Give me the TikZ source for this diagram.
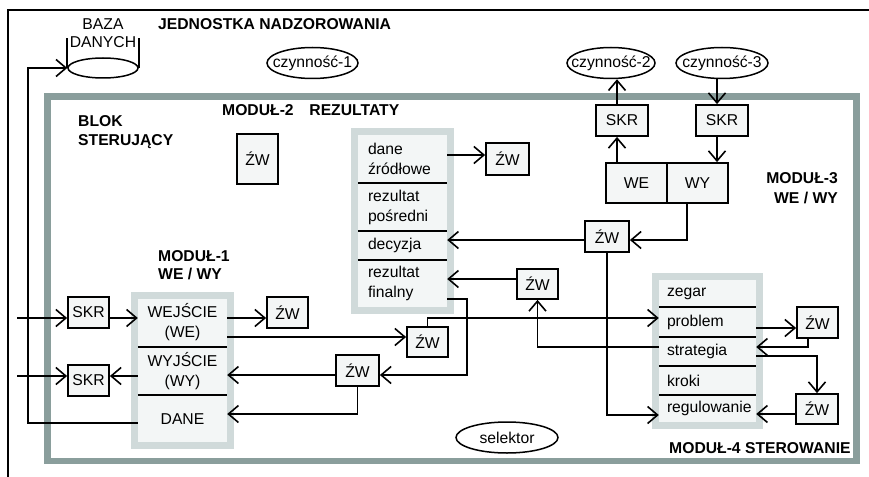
\documentclass[tikz,border=0pt]{standalone}
\usepackage{fontspec}
\setmainfont{Liberation Sans}
\usetikzlibrary{arrows.meta,shapes.geometric}
\definecolor{bigframe}{RGB}{138,158,156}
\definecolor{modframe}{RGB}{208,218,218}
\definecolor{modfill}{RGB}{243,246,246}
\definecolor{boxfill}{RGB}{244,246,246}
\begin{document}
\begin{tikzpicture}[x=1pt,y=-1pt,
  every node/.style={font=\fontsize{15.7}{20}\selectfont, inner sep=0pt},
  conn/.style={line width=1.6pt, -{Straight Barb[length=10pt,width=17pt]}},
  plain/.style={line width=1.6pt},
  box/.style={draw, line width=1.8pt, fill=boxfill, minimum height=31pt},
  zw/.style={box, minimum width=41pt},
  skr/.style={box, minimum width=41pt},
  ell/.style={ellipse, draw, line width=1.5pt, fill=white, minimum height=31pt},
  modbox/.style={draw=modframe, line width=7pt, fill=modfill, outer sep=0pt},
  crow/.style={minimum width=89pt, text width=89pt, align=center},
  lrow/.style={minimum width=89pt, text width=69pt, inner xsep=10pt, align=left},
  mrow/.style={minimum width=97pt, text width=81pt, inner xsep=8pt, align=left},
  bold/.style={font=\fontsize{15.7}{20}\selectfont\bfseries},
  sep/.style={line width=1.6pt}
]
\useasboundingbox (0,0) rectangle (869,476);
% outer frame (jednostka nadzorowania)
\draw[plain] (8,480) -- (8,10) -- (872,10);
% big grey frame (blok sterujacy)
\node[draw=bigframe, line width=6.5pt, minimum width=809pt, minimum height=364.5pt, outer sep=0pt] (blok) at (452,278.75) {};

% helper coordinates
\coordinate (in1) at (17,318);
\coordinate (in2) at (17,376);
\coordinate (yD) at (0,337);
\coordinate (yP) at (0,318);
\coordinate (cRF) at (467,299);
\coordinate (yE) at (0,375);
\coordinate (yDa) at (0,414);
\coordinate (cL) at (28,423);
\coordinate (yDz) at (0,155);
\coordinate (xW) at (617,0);
\coordinate (xY) at (717,0);
\coordinate (cWY) at (687,240);
\coordinate (yR) at (0,415);
\coordinate (yF) at (0,279);
\coordinate (yS) at (0,347);
\coordinate (yH) at (0,328);
\coordinate (cH) at (808,347);
\coordinate (yS3) at (0,356);
\coordinate (yI) at (0,414);
\coordinate (bzTop) at (0,38);

% labels
\node[bold, anchor=base west] (title) at (158,30) {JEDNOSTKA NADZOROWANIA};
\node[anchor=base] (bazaA) at (103,30) {BAZA};
\node[anchor=base] (bazaB) at (103,48) {DANYCH};
\node[bold, anchor=base west] (blokA) at (78,126) {BLOK};
\node[bold, anchor=base west] (blokB) at (78,145) {STERUJĄCY};
\node[bold, anchor=base west] (m2lbl) at (222,116) {MODUŁ-2\hspace{1em}REZULTATY};
\node[bold, anchor=base west] (m1a) at (158,261) {MODUŁ-1};
\node[bold, anchor=base west] (m1b) at (158,279) {WE / WY};
\node[bold, anchor=base east] (m3a) at (838,183) {MODUŁ-3};
\node[bold, anchor=base east] (m3b) at (838,203) {WE / WY};
\node[bold, anchor=base west] (m4lbl) at (669,453) {MODUŁ-4 STEROWANIE};

% ellipses
\node[ell, minimum width=70pt, minimum height=20pt] (baza) at (103,68) {};
\draw[plain] (baza.west) -- (baza.west |- bzTop);
\draw[plain] (baza.east) -- (baza.east |- bzTop);
\node[ell, minimum width=91pt] (cz1) at (312.5,63) {\makebox[0pt]{czynność-1}};
\node[ell, minimum width=88pt] (cz2) at (611,63) {\makebox[0pt]{czynność-2}};
\node[ell, minimum width=92pt] (cz3) at (722,63) {\makebox[0pt]{czynność-3}};
\node[ell, minimum width=102pt] (sel) at (507,437.5) {\makebox[0pt]{selektor}};

% module 1
\node[modbox, minimum width=96pt, minimum height=150pt] (m1) at (182.5,370.5) {};
\node[crow, minimum height=49pt] (r11) at (182.5,322.5) {WEJŚCIE\\(WE)};
\node[crow, minimum height=48pt] (r12) at (182.5,371) {WYJŚCIE\\(WY)};
\node[crow, minimum height=48pt] (r13) at (182.5,419) {DANE};
\draw[sep] (r11.south west) -- (r11.south east);
\draw[sep] (r12.south west) -- (r12.south east);

% module 2
\node[modbox, minimum width=96pt, minimum height=179pt] (m2) at (402.5,221) {};
\node[lrow, minimum height=48pt] (r21) at (402.5,159) {dane\\źródłowe};
\node[lrow, minimum height=48pt] (r22) at (402.5,207) {rezultat\\pośredni};
\node[lrow, minimum height=29pt] (r23) at (402.5,245.5) {decyzja};
\node[lrow, minimum height=47pt] (r24) at (402.5,283.5) {rezultat\\finalny};
\draw[sep] (r21.south west) -- (r21.south east);
\draw[sep] (r22.south west) -- (r22.south east);
\draw[sep] (r23.south west) -- (r23.south east);

% module 4
\node[modbox, minimum width=104pt, minimum height=149pt] (m4) at (707.5,351) {};
\node[mrow, minimum height=27pt] (r41) at (707.5,293.5) {zegar};
\node[mrow, minimum height=30pt] (r42) at (707.5,322) {problem};
\node[mrow, minimum height=29pt] (r43) at (707.5,351.5) {strategia};
\node[mrow, minimum height=29pt] (r44) at (707.5,380.5) {kroki};
\node[mrow, minimum height=27pt] (r45) at (707.5,408.5) {\mbox{regulowanie}};
\draw[sep] (r41.south west) -- (r41.south east);
\draw[sep] (r42.south west) -- (r42.south east);
\draw[sep] (r43.south west) -- (r43.south east);
\draw[sep] (r44.south west) -- (r44.south east);

% module 3 (WE / WY)
\node[box, minimum width=61pt, minimum height=40pt] (we3) at (636.5,183) {WE};
\node[box, minimum width=61pt, minimum height=40pt] (wy3) at (697.5,183) {WY};

% SKR boxes
\node[skr] (skr1) at (88.5,312.5) {SKR};
\node[skr] (skr2) at (88.5,380.5) {SKR};
\node[skr, minimum width=52pt] (skr3) at (622,120.5) {SKR};
\node[skr, minimum width=52pt] (skr4) at (722,120.5) {SKR};

% ZW boxes
\node[zw, minimum height=50pt] (zwA) at (257.5,159) {ŹW};
\node[zw, minimum width=43pt, minimum height=32pt] (zwB) at (507.5,159) {ŹW};
\node[zw] (zwC) at (287.5,312.5) {ŹW};
\node[zw, minimum height=30pt] (zwD) at (427.5,342) {ŹW};
\node[zw, minimum width=43pt] (zwE) at (357.5,370.5) {ŹW};
\node[zw, minimum height=30pt] (zwF) at (537.5,284) {ŹW};
\node[zw, minimum width=44pt] (zwG) at (607,236.5) {ŹW};
\node[zw] (zwH) at (817.5,322.5) {ŹW};
\node[zw, minimum width=42pt, minimum height=30pt] (zwI) at (817,409) {ŹW};

% connectors
\draw[conn] (in1) -- (in1 -| skr1.west);
\draw[conn] (in1 -| skr1.east) -- (in1 -| r11.west);
\draw[conn] (in2) -- (in2 -| skr2.west);
\draw[conn] (in2 -| r12.west) -- (in2 -| skr2.east);
\draw[conn] (in1 -| r11.east) -- (in1 -| zwC.west);
\draw[conn] (yD -| r11.east) -- (yD -| zwD.west);
\draw[conn] (zwD.north) -- (zwD.north |- yP) -- (yP -| r42.west);
\draw[conn] (r24.east |- cRF) -- (cRF) -- (cRF |- yE) -- (yE -| zwE.east);
\draw[conn] (yE -| zwE.west) -- (yE -| r12.east);
\draw[conn] (zwE.south) -- (zwE.south |- yDa) -- (yDa -| r13.east);
\draw[conn] (r13.west |- cL) -- (cL) -- (cL |- baza.west) -- (baza.west);
\draw[conn] (yDz -| r21.east) -- (yDz -| zwB.west);
\draw[conn] (xW |- we3.north) -- (xW |- skr3.south);
\draw[conn] (xW |- skr3.north) -- (xW |- cz2.south);
\draw[conn] (xY |- cz3.south) -- (xY |- skr4.north);
\draw[conn] (xY |- skr4.south) -- (xY |- wy3.north);
\draw[conn] (cWY |- wy3.south) -- (cWY) -- (cWY -| zwG.east);
\draw[conn] (cWY -| zwG.west) -- (cWY -| r23.east);
\draw[conn] (zwG.south) -- (zwG.south |- yR) -- (yR -| r45.west);
\draw[conn] (yF -| zwF.west) -- (yF -| r24.east);
\draw[conn] (yS -| r43.west) -- (yS -| zwF.south) -- (zwF.south);
\draw[conn] (yH -| r42.east) -- (yH -| zwH.west);
\draw[conn] (cH |- zwH.south) -- (cH) -- (cH -| r43.east);
\draw[conn] (yS3 -| r43.east) -- (yS3 -| zwI.north) -- (zwI.north);
\draw[conn] (yI -| zwI.west) -- (yI -| r45.east);
\end{tikzpicture}
\end{document}
